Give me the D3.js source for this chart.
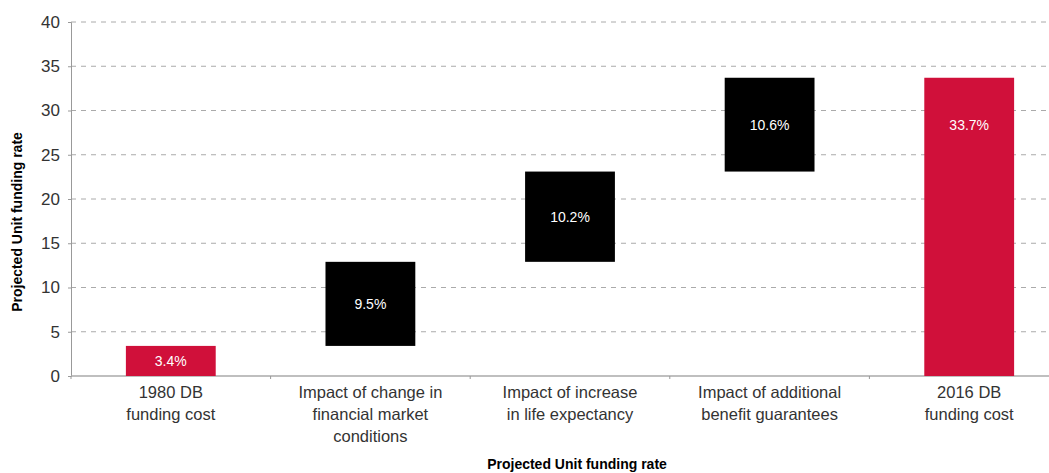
<!DOCTYPE html>
<html>
<head>
<meta charset="utf-8">
<script src="https://cdn.jsdelivr.net/npm/d3@7"></script>
<style>
  body { margin: 0; background: #fff; }
  svg { font-family: "Liberation Sans", Arial, sans-serif; }
</style>
</head>
<body>
<div id="chart"></div>
<script>
// waterfall data
const categories = [
  ["1980 DB", "funding cost"],
  ["Impact of change in", "financial market", "conditions"],
  ["Impact of increase", "in life expectancy"],
  ["Impact of additional", "benefit guarantees"],
  ["2016 DB", "funding cost"]
];
const values = [3.4, 9.5, 10.2, 10.6, 33.7];
const kinds = ["total", "step", "step", "step", "total"];
const yTicks = [0, 5, 10, 15, 20, 25, 30, 35, 40];

const W = 1049, H = 473;
const margin = { left: 71, top: 22, bottom: 97 };

const svg = d3.select('#chart').append('svg')
  .attr('width', W).attr('height', H);

const y = d3.scaleLinear().domain([0, 40]).range([H - margin.bottom, margin.top]);
const x = d3.scaleBand().domain(d3.range(categories.length))
  .range([margin.left, margin.left + 998]).paddingInner(0.55).paddingOuter(0.275);

// running totals for the floating bars
let run = 0;
const bars = values.map((v, i) => {
  let lo, hi;
  if (kinds[i] === 'total') { lo = 0; hi = v; run = v; }
  else { lo = run; hi = run + v; run = hi; }
  return { i, v, lo, hi, kind: kinds[i] };
});

// gridlines
svg.append('g').selectAll('line')
  .data(yTicks.filter(d => d > 0))
  .enter().append('line')
    .attr('x1', margin.left).attr('x2', W)
    .attr('y1', d => y(d)).attr('y2', d => y(d))
    .attr('stroke', '#aaa').attr('stroke-width', 1)
    .attr('stroke-dasharray', '5,5');

// y axis
const yAxis = svg.append('g')
  .attr('transform', 'translate(' + margin.left + ',0)')
  .call(d3.axisLeft(y).tickValues(yTicks).tickSize(3).tickPadding(8));
yAxis.select('.domain').attr('stroke', '#999');
yAxis.selectAll('.tick line').attr('stroke', '#999');
yAxis.selectAll('.tick text').attr('fill', '#333').style('font-size', '17px');

// x axis
const xAxis = svg.append('g')
  .attr('transform', 'translate(0,' + y(0) + ')');
xAxis.append('line')
  .attr('x1', margin.left).attr('x2', W)
  .attr('stroke', '#aaa').attr('stroke-width', 1.5);
xAxis.selectAll('.xt')
  .data(d3.range(categories.length + 1))
  .enter().append('line')
    .attr('x1', d => margin.left + d * x.step()).attr('x2', d => margin.left + d * x.step())
    .attr('y1', 0).attr('y2', 3).attr('stroke', '#999');

// bars
svg.append('g').selectAll('rect')
  .data(bars)
  .enter().append('rect')
    .attr('x', d => x(d.i))
    .attr('width', x.bandwidth())
    .attr('y', d => y(d.hi))
    .attr('height', d => y(d.lo) - y(d.hi))
    .attr('fill', d => d.kind === 'total' ? '#d0103a' : '#000');

// value labels (centred, but kept near the top of tall bars)
svg.append('g').selectAll('text')
  .data(bars)
  .enter().append('text')
    .attr('x', d => x(d.i) + x.bandwidth() / 2)
    .attr('y', d => Math.min((y(d.lo) + y(d.hi)) / 2, y(d.hi) + 47))
    .attr('dy', '0.35em')
    .attr('text-anchor', 'middle')
    .attr('fill', '#fff')
    .style('font-size', '14px')
    .text(d => d.v.toFixed(1) + '%');

// category labels
const cl = svg.append('g').selectAll('text')
  .data(categories)
  .enter().append('text')
    .attr('text-anchor', 'middle')
    .attr('fill', '#333')
    .style('font-size', '16.5px')
    .attr('transform', (d, i) => 'translate(' + (x(i) + x.bandwidth() / 2) + ',' + (y(0) + 22) + ')');
cl.selectAll('tspan')
  .data(d => d)
  .enter().append('tspan')
    .attr('x', 0)
    .attr('dy', (d, j) => j === 0 ? 0 : 22)
    .text(d => d);

// axis titles
svg.append('text')
  .attr('transform', 'translate(22,222) rotate(-90)')
  .attr('text-anchor', 'middle')
  .style('font-size', '14px').style('font-weight', 'bold')
  .attr('fill', '#000')
  .text('Projected Unit funding rate');

svg.append('text')
  .attr('x', 577).attr('y', 469)
  .attr('text-anchor', 'middle')
  .style('font-size', '14px').style('font-weight', 'bold')
  .attr('fill', '#000')
  .text('Projected Unit funding rate');
</script>
</body>
</html>
